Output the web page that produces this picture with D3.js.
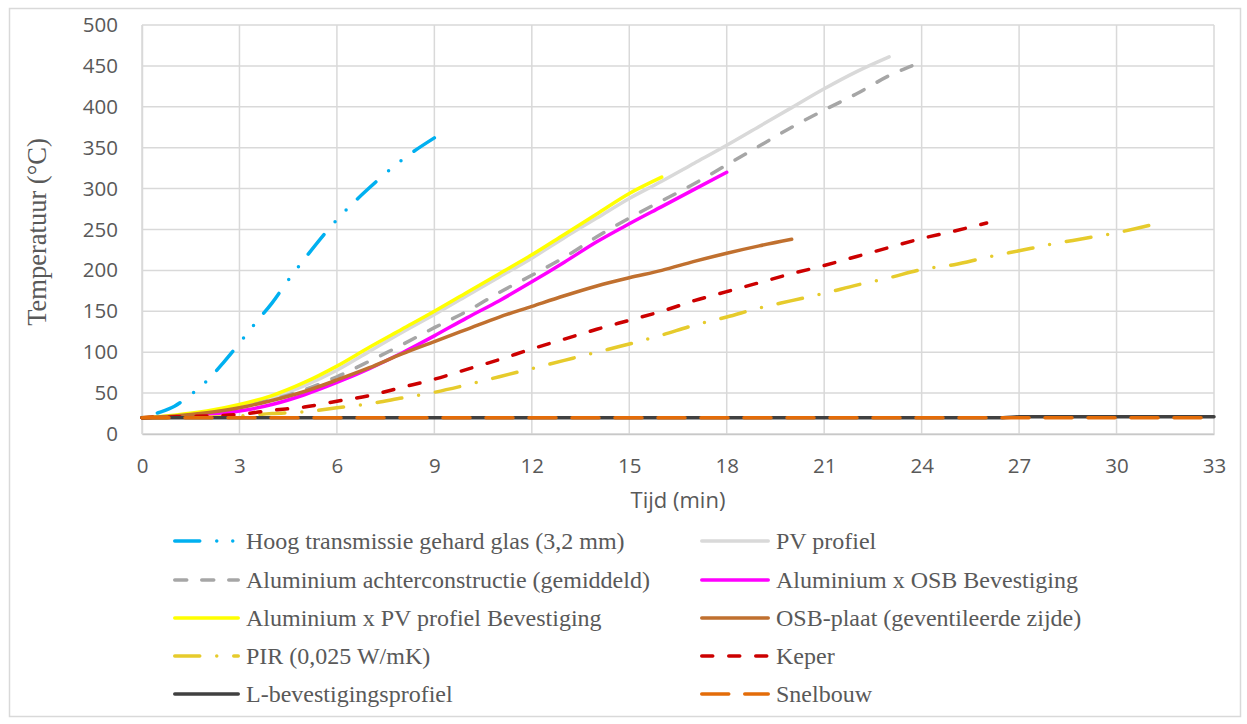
<!DOCTYPE html>
<html>
<head>
<meta charset="utf-8">
<script src="https://cdn.jsdelivr.net/npm/d3@7"></script>
<style>
  html, body { margin: 0; padding: 0; background: #fff; }
  svg { display: block; }
</style>
</head>
<body>
<svg id="chart" width="1247" height="724"></svg>
<script>
// Meetreeksen: [tijd (min), temperatuur (°C)]
const glas = [[0,20],[0.5,26],[1,34],[1.5,48],[2,65],[2.5,87],[3,111],[3.5,136],[4,160],[4.5,188],[5,214],[6,262],[7,301],[8,335],[9,362]];
const pvProfiel = [[0,20],[1,22],[2,27],[3,34],[4,44],[5,59],[6,78],[7,101],[8,124],[9,146],[10,169],[11,192],[12,215],[13,240],[14,264],[15,288],[16,309],[17,331],[18,353],[19,376],[20,399],[21,422],[22,443],[23,461]];
const alAchter = [[0,20],[1,22],[2,26],[3,33],[4,42],[5,54],[6,70],[7,89],[8,109],[9,130],[10,150],[11,173],[12,194],[13,216],[14,241],[15,264],[16,285],[17,306],[18,329],[19,352],[20,375],[21,396],[22,416],[23,438],[23.7,450]];
const alOsb = [[0,20],[1,21],[2,24],[3,28],[4,36],[5,48],[6,63],[7,80],[8,99],[9,120],[10,142],[11,163],[12,186],[13,210],[14,235],[15,257],[16,278],[17,299],[18,320]];
const alPv = [[0,20],[1,23],[2,28],[3,36],[4,47],[5,63],[6,83],[7,106],[8,128],[9,150],[10,173],[11,196],[12,219],[13,244],[14,269],[15,294],[16,314]];
const osbPlaat = [[0,20],[1,22],[2,26],[3,32],[4,41],[5,52],[6,66],[7,81],[8,98],[9,113],[10,128],[11,143],[12,156],[13,169],[14,181],[15,191],[16,200],[17,211],[18,221],[19,230],[20,238]];
const pir = [[0,20],[1,20],[2,20.5],[3,22],[4,25],[5,27],[6,32],[7,37],[8,44],[9,51],[10,60],[11,70],[12,80],[13,90],[14,100],[15,110],[16,121],[17,133],[18,143],[19,154],[20,163],[21,172],[22,182],[23,191],[24,201],[25,207],[26,216],[27,224],[28,232],[29,239],[30,246],[31,255],[31.1,256]];
const keper = [[0,20],[1,21],[2,22],[3,24],[4,29],[5,33],[6,40],[7,47],[8,57],[9,67],[10,79],[11,91],[12,104],[13,116],[14,128],[15,139],[16,150],[17,163],[18,174],[19,185],[20,196],[21,206],[22,217],[23,228],[24,239],[25,248],[26,258]];
const lProfiel = [[0,20],[26.5,20],[27,21],[33,21]];
const snelbouw = [[0,20],[33,20]];

const xTicks = [0,3,6,9,12,15,18,21,24,27,30,33];
const yTicks = [0,50,100,150,200,250,300,350,400,450,500];

const series = [
  { name: "Hoog transmissie gehard glas (3,2 mm)", data: glas,      color: "#00B0F0", dash: [25,17,0,16,0,16], endOnDash: true },
  { name: "PV profiel",                            data: pvProfiel, color: "#D9D9D9", dash: null },
  { name: "Aluminium achterconstructie (gemiddeld)", data: alAchter, color: "#A6A6A6", dash: [12,15], endOnDash: true },
  { name: "Aluminium x OSB Bevestiging",           data: alOsb,     color: "#FF00FF", dash: null },
  { name: "Aluminium x PV profiel Bevestiging",    data: alPv,      color: "#FFFF00", dash: null },
  { name: "OSB-plaat (geventileerde zijde)",       data: osbPlaat,  color: "#C0702F", dash: null },
  { name: "PIR (0,025 W/mK)",                      data: pir,       color: "#E6CB2C", dash: [25,17,0,17] },
  { name: "Keper",                                 data: keper,     color: "#CC0000", dash: [11,16] },
  { name: "L-bevestigingsprofiel",                 data: lProfiel,  color: "#404040", dash: null },
  { name: "Snelbouw",                              data: snelbouw,  color: "#E36C09", dash: [27,16] }
];

const svg = d3.select("#chart");
const plot = { left: 142, right: 1214, top: 25, bottom: 434 };

// Kader rond de grafiek
svg.append("rect")
  .attr("x", 9.5).attr("y", 8.5).attr("width", 1231).attr("height", 708)
  .attr("fill", "#fff").attr("stroke", "#D9D9D9").attr("stroke-width", 1.5);

const x = d3.scaleLinear().domain([0, 33]).range([plot.left, plot.right]);
const y = d3.scaleLinear().domain([0, 500]).range([plot.bottom, plot.top]);

// Rasterlijnen
const grid = svg.append("g");
grid.selectAll("line.h").data(yTicks).join("line")
  .attr("x1", plot.left).attr("x2", plot.right)
  .attr("y1", d => y(d)).attr("y2", d => y(d))
  .attr("stroke", "#D9D9D9").attr("stroke-width", 1.5);
grid.selectAll("line.v").data(xTicks).join("line")
  .attr("x1", d => x(d)).attr("x2", d => x(d))
  .attr("y1", plot.top).attr("y2", plot.bottom)
  .attr("stroke", "#D9D9D9").attr("stroke-width", 1.5);

// Assen
const xAxis = svg.append("g")
  .attr("transform", `translate(0,${plot.bottom})`)
  .call(d3.axisBottom(x).tickValues(xTicks).tickSize(0).tickPadding(24));
const yAxis = svg.append("g")
  .attr("transform", `translate(${plot.left},0)`)
  .call(d3.axisLeft(y).tickValues(yTicks).tickSize(0).tickPadding(24));
[xAxis, yAxis].forEach(g => {
  g.select(".domain").attr("stroke", "#C8C8C8").attr("stroke-width", 1.5);
  g.selectAll("text")
    .attr("font-family", "'Open Sans', sans-serif")
    .attr("font-size", 20.5)
    .attr("fill", "#595959");
});
yAxis.select(".domain").attr("stroke", "#D9D9D9");

// Astitels
svg.append("text")
  .attr("x", (plot.left + plot.right) / 2).attr("y", 508)
  .attr("text-anchor", "middle")
  .attr("font-family", "'Open Sans', sans-serif").attr("font-size", 22)
  .attr("fill", "#595959")
  .text("Tijd (min)");
svg.append("text")
  .attr("transform", "translate(46,232) rotate(-90)")
  .attr("text-anchor", "middle")
  .attr("font-family", "'Liberation Serif', 'Times New Roman', serif").attr("font-size", 26.5)
  .attr("fill", "#595959")
  .text("Temperatuur (°C)");

// Lijnen
const line = d3.line()
  .x(d => x(d[0])).y(d => y(d[1]))
  .curve(d3.curveMonotoneX);

const lines = svg.append("g");
series.forEach(s => {
  const p = lines.append("path")
    .datum(s.data)
    .attr("d", line)
    .attr("fill", "none")
    .attr("stroke", s.color)
    .attr("stroke-width", 3.5)
    .attr("stroke-linecap", "round")
    .attr("stroke-linejoin", "round")
    .attr("stroke-dasharray", s.dash ? s.dash.join(",") : null);
  if (s.endOnDash) {
    // laat het streeppatroon eindigen op een streep
    const len = p.node().getTotalLength();
    const period = d3.sum(s.dash);
    p.attr("stroke-dashoffset", (s.dash[0] - 0.5) - (len % period));
  }
});

// Legenda in twee kolommen
const legend = svg.append("g");
const colX = [173, 700];
const rowY = [541, 580, 618, 656, 694];
series.forEach((s, i) => {
  const cx = colX[i % 2], cy = rowY[Math.floor(i / 2)];
  const sampleLen = i % 2 === 0 ? 67 : 70;
  legend.append("line")
    .attr("x1", cx + 1.75).attr("x2", cx + sampleLen - 1.75)
    .attr("y1", cy).attr("y2", cy)
    .attr("stroke", s.color).attr("stroke-width", 3.5)
    .attr("stroke-linecap", "round")
    .attr("stroke-dasharray", s.dash ? s.dash.join(",") : null);
  legend.append("text")
    .attr("x", cx + sampleLen + 6).attr("y", cy + 8)
    .attr("font-family", "'Liberation Serif', 'Times New Roman', serif")
    .attr("font-size", 24)
    .attr("fill", "#595959")
    .text(s.name);
});
</script>
</body>
</html>
